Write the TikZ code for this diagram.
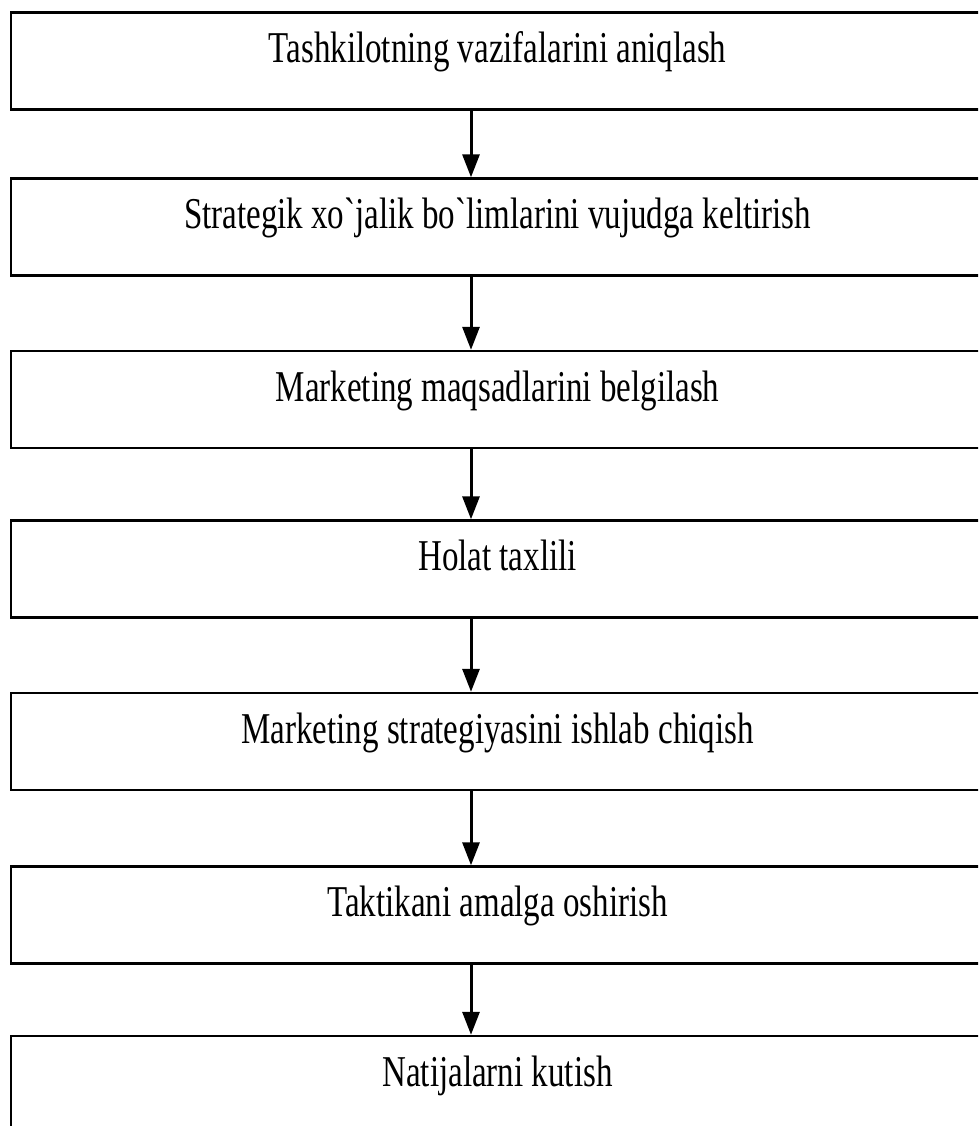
\documentclass[tikz,border=0pt]{standalone}
\usepackage{fontspec}
\setmainfont{Liberation Serif}[FakeStretch=0.75, Ligatures=TeXOff]
\usepackage{tikz}
\usetikzlibrary{positioning,arrows.meta}

\begin{document}
\begin{tikzpicture}[x=1pt, y=-1pt,
  stage/.style={rectangle, draw=black, line width=2.4pt, minimum width=973pt, inner sep=0pt,
                text height=50pt, text depth=47pt, font=\fontsize{44}{52}\selectfont},
  arrow/.style={-{Triangle[length=23pt,width=17pt]}, line width=3pt, color=black}
]
\useasboundingbox (0,0) rectangle (978,1126);
\clip (0,0) rectangle (978,1126);

\node[stage] (tasks) at (497.5,61) {Tashkilotning vazifalarini aniqlash};
\node[stage] (units) at (497.5,227) {Strategik xo`jalik bo`limlarini vujudga keltirish};
\node[stage] (goals) at (497.5,399.5) {Marketing maqsadlarini belgilash};
\node[stage] (state) at (497.5,569) {Holat taxlili};
\node[stage] (plan) at (497.5,741.5) {Marketing strategiyasini ishlab chiqish};
\node[stage] (tactic) at (497.5,915) {Taktikani amalga oshirish};
\node[stage] (result) at (497.5,1084.5) {Natijalarni kutish};

\draw[arrow] ([xshift=-26.5pt]tasks.south) -- ([xshift=-26.5pt]units.north);
\draw[arrow] ([xshift=-26.5pt]units.south) -- ([xshift=-26.5pt]goals.north);
\draw[arrow] ([xshift=-26.5pt]goals.south) -- ([xshift=-26.5pt]state.north);
\draw[arrow] ([xshift=-26.5pt]state.south) -- ([xshift=-26.5pt]plan.north);
\draw[arrow] ([xshift=-26.5pt]plan.south) -- ([xshift=-26.5pt]tactic.north);
\draw[arrow] ([xshift=-26.5pt]tactic.south) -- ([xshift=-26.5pt]result.north);
\end{tikzpicture}
\end{document}
